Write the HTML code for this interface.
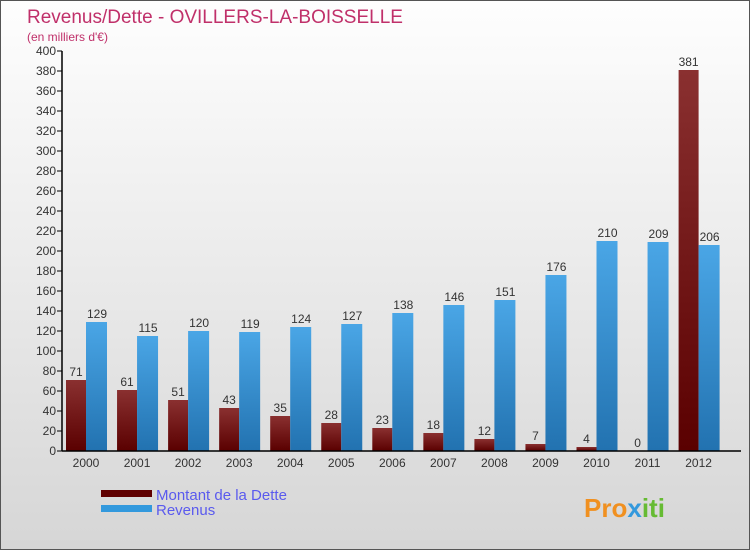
<!DOCTYPE html>
<html><head><meta charset="utf-8"><style>
body{margin:0}
#c{position:relative;width:750px;height:550px;box-sizing:border-box;border:1px solid #555;background:linear-gradient(#fefefe,#d6d6d6);font-family:"Liberation Sans",sans-serif;overflow:hidden}
</style></head><body>
<div id="c">
<svg id="s" width="750" height="550" style="position:absolute;left:0;top:0">
<defs>
<linearGradient id="gd" x1="0" y1="0" x2="0" y2="1"><stop offset="0" stop-color="#8a3030"/><stop offset="1" stop-color="#5a0000"/></linearGradient>
<linearGradient id="gr" x1="0" y1="0" x2="0" y2="1"><stop offset="0" stop-color="#4aa6e6"/><stop offset="1" stop-color="#2272b0"/></linearGradient>
</defs>
<text x="26" y="22" font-size="19" fill="#c0306a">Revenus/Dette - OVILLERS-LA-BOISSELLE</text>
<text x="26" y="40" font-size="12" fill="#c0306a">(en milliers d'€)</text>
<g id="g"></g>
<rect x="100" y="489" width="51" height="7" fill="#600000"/>
<text x="155" y="499" font-size="15" fill="#5a5aee">Montant de la Dette</text>
<rect x="100" y="504" width="51" height="7" fill="#3399dd"/>
<text x="155" y="514" font-size="15" fill="#5a5aee">Revenus</text>
<text x="583" y="516" font-size="26" font-weight="bold" fill="#f09020">Pro<tspan fill="#3399dd">x</tspan><tspan fill="#66bb33">iti</tspan></text>
</svg>
</div>
<script>
const years=["2000","2001","2002","2003","2004","2005","2006","2007","2008","2009","2010","2011","2012"];
const dette=[71,61,51,43,35,28,23,18,12,7,4,0,381];
const revenus=[129,115,120,119,124,127,138,146,151,176,210,209,206];
const yTicks=[0,20,40,60,80,100,120,140,160,180,200,220,240,260,280,300,320,340,360,380,400];
const NS="http://www.w3.org/2000/svg",g=document.getElementById('g');
const y=v=>450-v*1.0, x=i=>85+i*51.05;
function mk(t,a,txt){const e=document.createElementNS(NS,t);for(const k in a)e.setAttribute(k,a[k]);if(txt!==undefined)e.textContent=txt;g.appendChild(e);return e;}
yTicks.forEach(v=>{
 const t=mk('line',{x1:56,x2:61,y1:y(v),y2:y(v),stroke:'#000'});
 
 
 const l=mk('text',{x:55,y:y(v)+4,'font-size':12,'text-anchor':'end',fill:'#333'},v);
 
 
});
years.forEach((yr,i)=>{
 const b1=mk('rect',{x:x(i)-20,y:y(dette[i]),width:20,height:dette[i]*1.0,fill:'url(#gd)'});
 
 
 const b2=mk('rect',{x:x(i),y:y(revenus[i]),width:21,height:revenus[i]*1.0,fill:'url(#gr)'});
 
 
 const v1=mk('text',{x:x(i)-10,y:y(dette[i])-4,'font-size':12,'text-anchor':'middle',fill:'#333'},dette[i]);
 
 
 const v2=mk('text',{x:x(i)+11,y:y(revenus[i])-4,'font-size':12,'text-anchor':'middle',fill:'#333'},revenus[i]);
 
 
 const xl=mk('text',{x:x(i),y:466,'font-size':12,'text-anchor':'middle',fill:'#333'},yr);
 
 
});
const ya=mk('line',{x1:61,x2:61,y1:50,y2:450,stroke:'#000','stroke-width':1.5});


const xa=mk('line',{x1:61,x2:740,y1:450,y2:450,stroke:'#000','stroke-width':1.5});


</script>
</body></html>
